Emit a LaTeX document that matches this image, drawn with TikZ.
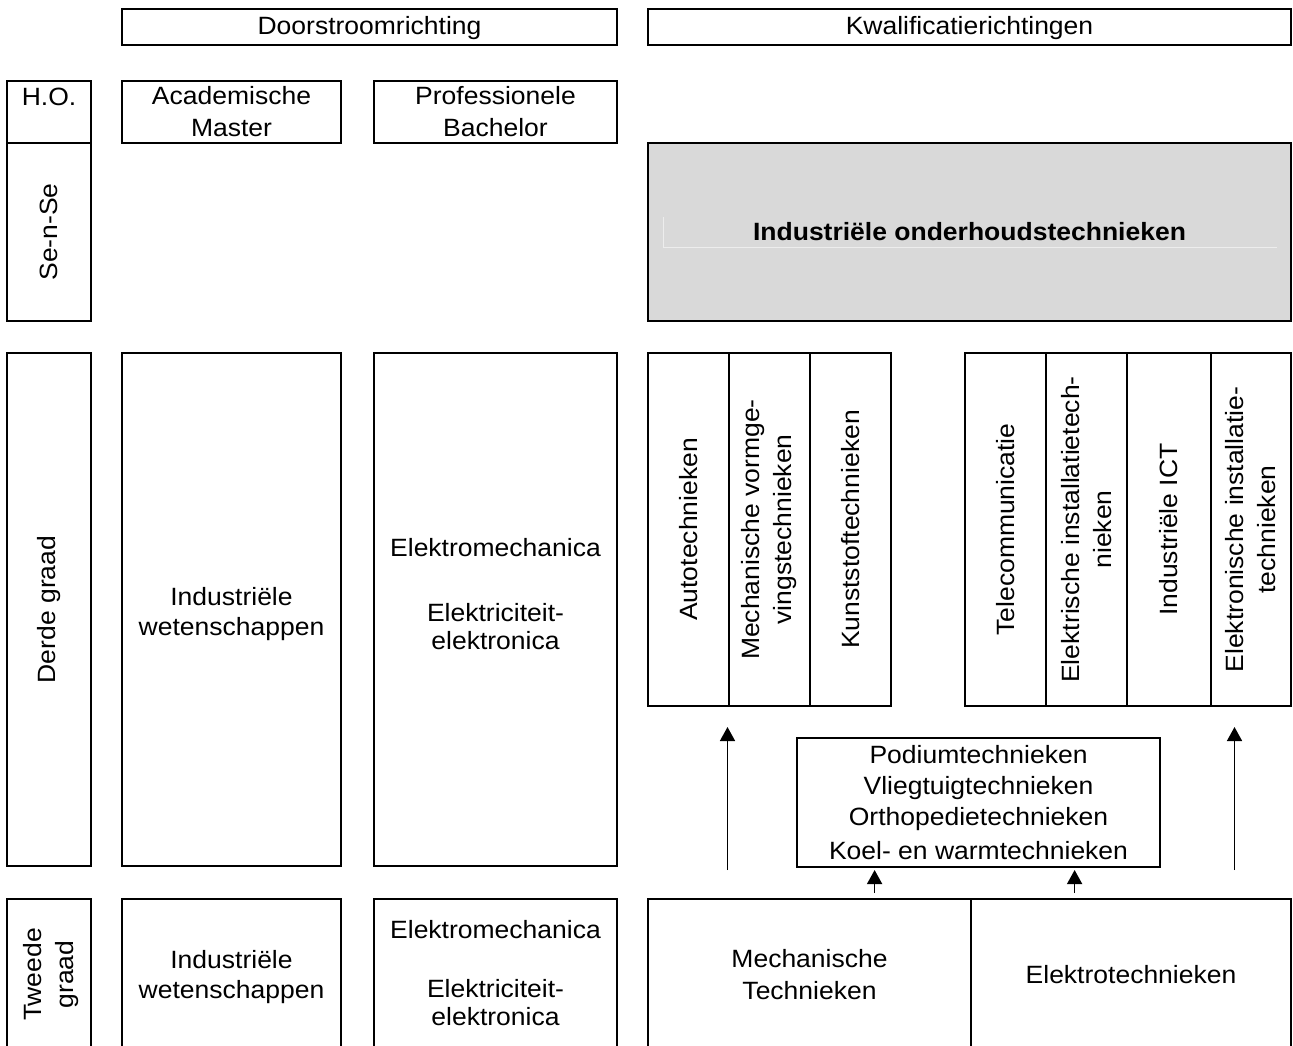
\documentclass[tikz,border=0pt]{standalone}
\usepackage{fontspec}
\setmainfont[FakeStretch=1.06]{Liberation Sans}
\usetikzlibrary{fit,arrows.meta}

\tikzset{
  box/.style={draw, line width=1.3pt, inner sep=0pt, outer sep=0pt},
  txt/.style={inner sep=0pt, align=center},
  arr/.style={-{Triangle[length=7pt,width=7.5pt]}, line width=0.8pt},
}

\begin{document}
\begin{tikzpicture}[x=0.5pt, y=-0.5pt, font=\fontsize{12.5}{15}\selectfont]
\useasboundingbox (0,0) rectangle (1293,1045); %page size
\clip (0,0) rectangle (1293,1045);
% headers
\node[box, fit={(122,9) (617,45)}] (door) {};
\node[txt] (doorT) at (369.5,28) {Doorstroomrichting};
\node[box, fit={(648,9) (1291,45)}] (kwal) {};
\node[txt] (kwalT) at (969.5,28) {Kwalificatierichtingen};
% hoger onderwijs and Se-n-Se
\node[box, fit={(7,81) (91,143)}] (ho) {}; %H.O. box
\node[txt, anchor=north, inner sep=3.5pt] (hoT) at (ho.north) {H.O.};
\node[box, fit={(7,143) (91,321)}] (sense) {};
\node[txt, rotate=90] (senseT) at (sense) {Se-n-Se};
\node[box, fit={(122,81) (341,143)}] (master) {};
\node[txt] (masterT) at (master) {Academische\\[1pt]Master};
\node[box, fit={(374,81) (617,143)}] (bachelor) {};
\node[txt] (bachelorT) at (bachelor) {Professionele\\[1pt]Bachelor};
\node[box, fill=black!15, fit={(648,143) (1291,321)}] (ioo) {};
\draw[black!7, line width=0.4pt] (663,217) -- (663,247) -- (1277,247); %faint frame in grey box
\node[txt, font=\fontsize{12.5}{15}\selectfont\bfseries] (iooT) at (ioo) {Industriële onderhoudstechnieken};
% derde graad
\node[box, fit={(7,353) (91,866)}] (derde) {};
\node[txt, rotate=90] (derdeT) at (derde) {Derde graad};
\node[box, fit={(122,353) (341,866)}] (indw3) {};
\node[txt] (indw3T) at (231.5,614.5) {Industriële\\wetenschappen};
\node[box, fit={(374,353) (617,866)}] (elek3) {};
\node[txt] (elek3T) at (495.5,594.5) {Elektromechanica\\[17.5pt]Elektriciteit-\\[-1pt]elektronica};
% kwalificatierichtingen, mechanica side
\node[box, fit={(648,353) (729,706)}] (auto) {};
\node[txt, rotate=90] (autoT) at (auto) {Autotechnieken};
\node[box, fit={(729,353) (810,706)}] (vorm) {};
\node[txt, rotate=90] (vormT) at (vorm) {Mechanische vormge-\\[1pt]vingstechnieken};
\node[box, fit={(810,353) (891,706)}] (kunst) {};
\node[txt, rotate=90] (kunstT) at (kunst) {Kunststoftechnieken};
% kwalificatierichtingen, elektro side
\node[box, fit={(965,353) (1046,706)}] (tele) {};
\node[txt, rotate=90] (teleT) at (tele) {Telecommunicatie};
\node[box, fit={(1046,353) (1127,706)}] (elinst) {};
\node[txt, rotate=90] (elinstT) at (elinst) {Elektrische installatietech-\\[1pt]nieken};
\node[box, fit={(1127,353) (1211,706)}] (ict) {};
\node[txt, rotate=90] (ictT) at (ict) {Industriële ICT};
\node[box, fit={(1211,353) (1291,706)}] (eoinst) {};
\node[txt, rotate=90] (eoinstT) at (eoinst) {Elektronische installatie-\\[1pt]technieken};
% specialisaties
\node[box, fit={(797,738) (1160,867)}] (podium) {};
\node[txt] (podiumT) at (podium) {Podiumtechnieken\\[0.5pt]Vliegtuigtechnieken\\[0.5pt]Orthopedietechnieken\\[2pt]Koel- en warmtechnieken};
% tweede graad
\node[box, fit={(7,899) (91,1050)}] (tweede) {};
\node[txt, rotate=90] (tweedeT) at (51,974.5) {Tweede\\[1pt]graad};
\node[box, fit={(122,899) (341,1050)}] (indw2) {};
\node[txt] (indw2T) at (231.5,977) {Industriële\\wetenschappen};
\node[box, fit={(374,899) (617,1050)}] (elek2) {};
\node[txt] (elek2T) at (495.5,973.5) {Elektromechanica\\[14.5pt]Elektriciteit-\\[-1pt]elektronica};
\node[box, fit={(648,899) (971,1050)}] (mech2) {};
\node[txt] (mech2T) at (mech2) {Mechanische\\[1pt]Technieken};
\node[box, fit={(971,899) (1291,1050)}] (elektro2) {};
\node[txt] (elektro2T) at (elektro2) {Elektrotechnieken};
% arrows
\coordinate (lfoot) at (727.5,870); \coordinate (ltip) at (727.5,727);
\coordinate (rfoot) at (1234.5,870); \coordinate (rtip) at (1234.5,727);
\draw[arr] (lfoot) -- (ltip); %left long arrow
\draw[arr] (rfoot) -- (rtip); %right long arrow
\coordinate (mx) at (874.6,0); \coordinate (ex) at (1074.6,0);
\draw[arr, shorten <=3pt, shorten >=1.5pt] (mech2.north -| mx) -- (podium.south -| mx);
\draw[arr, shorten <=3pt, shorten >=1.5pt] (elektro2.north -| ex) -- (podium.south -| ex);
\end{tikzpicture}
\end{document}
